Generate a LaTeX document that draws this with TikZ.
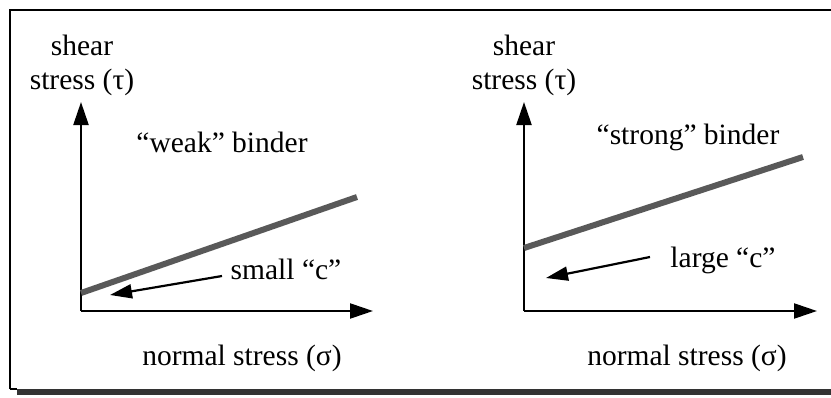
\documentclass[tikz,border=0pt]{standalone}
\usepackage{fontspec}
\setmainfont{Liberation Serif}
\usetikzlibrary{arrows.meta}
\begin{document}
\begin{tikzpicture}[x=1pt,y=-1pt,
  lbl/.style={anchor=base,inner sep=0pt,font=\fontsize{29.5}{34}\selectfont},
  axis/.style={line width=2.2pt,-{Triangle[length=23pt,width=15pt]}},
  pointer/.style={line width=2.2pt,-{Triangle[length=22pt,width=14pt]}},
  envelope/.style={line width=6pt,draw=black!65},
  frame/.style={line width=2pt}]
\useasboundingbox (0,0) rectangle (831,397);
% frame
\draw[frame] (10,389) -- (10,10) -- (831,10);
\draw[frame] (10,389) -- (17,389);
\fill[black!80] (17,389) rectangle (831,395);
% left plot
\coordinate (o1) at (81,311);
\coordinate (y1) at (81,102);
\coordinate (x1) at (373,311);
\draw[axis] (o1) -- (y1);
\draw[axis] (o1) -- (x1);
\coordinate (l1a) at (81,293);
\coordinate (l1b) at (357,197);
\draw[envelope] (l1a) -- (l1b);
\node[lbl] (s1) at (82,55) {shear};
\node[lbl] (t1) at (82,89) {stress (τ)};
\node[lbl] (w1) at (222,152) {“weak” binder};
\node[lbl] (c1) at (286,279) {small “c”};
\node[lbl] (n1) at (242,365) {normal stress (σ)};
\coordinate (p1s) at (222,276);
\coordinate (p1e) at (110,295);
\draw[pointer] (p1s) -- (p1e);
% right plot
\coordinate (o2) at (524,311);
\coordinate (y2) at (524,102);
\coordinate (x2) at (817,311);
\draw[axis] (o2) -- (y2);
\draw[axis] (o2) -- (x2);
\coordinate (l2a) at (524,248);
\coordinate (l2b) at (803,157);
\draw[envelope] (l2a) -- (l2b);
\node[lbl] (s2) at (524,55) {shear};
\node[lbl] (t2) at (524,89) {stress (τ)};
\node[lbl] (w2) at (688,144) {“strong” binder};
\node[lbl] (c2) at (723,267) {large “c”};
\node[lbl] (n2) at (687,365) {normal stress (σ)};
\coordinate (p2s) at (650,257);
\coordinate (p2e) at (546,278);
\draw[pointer] (p2s) -- (p2e);
\end{tikzpicture}
\end{document}
